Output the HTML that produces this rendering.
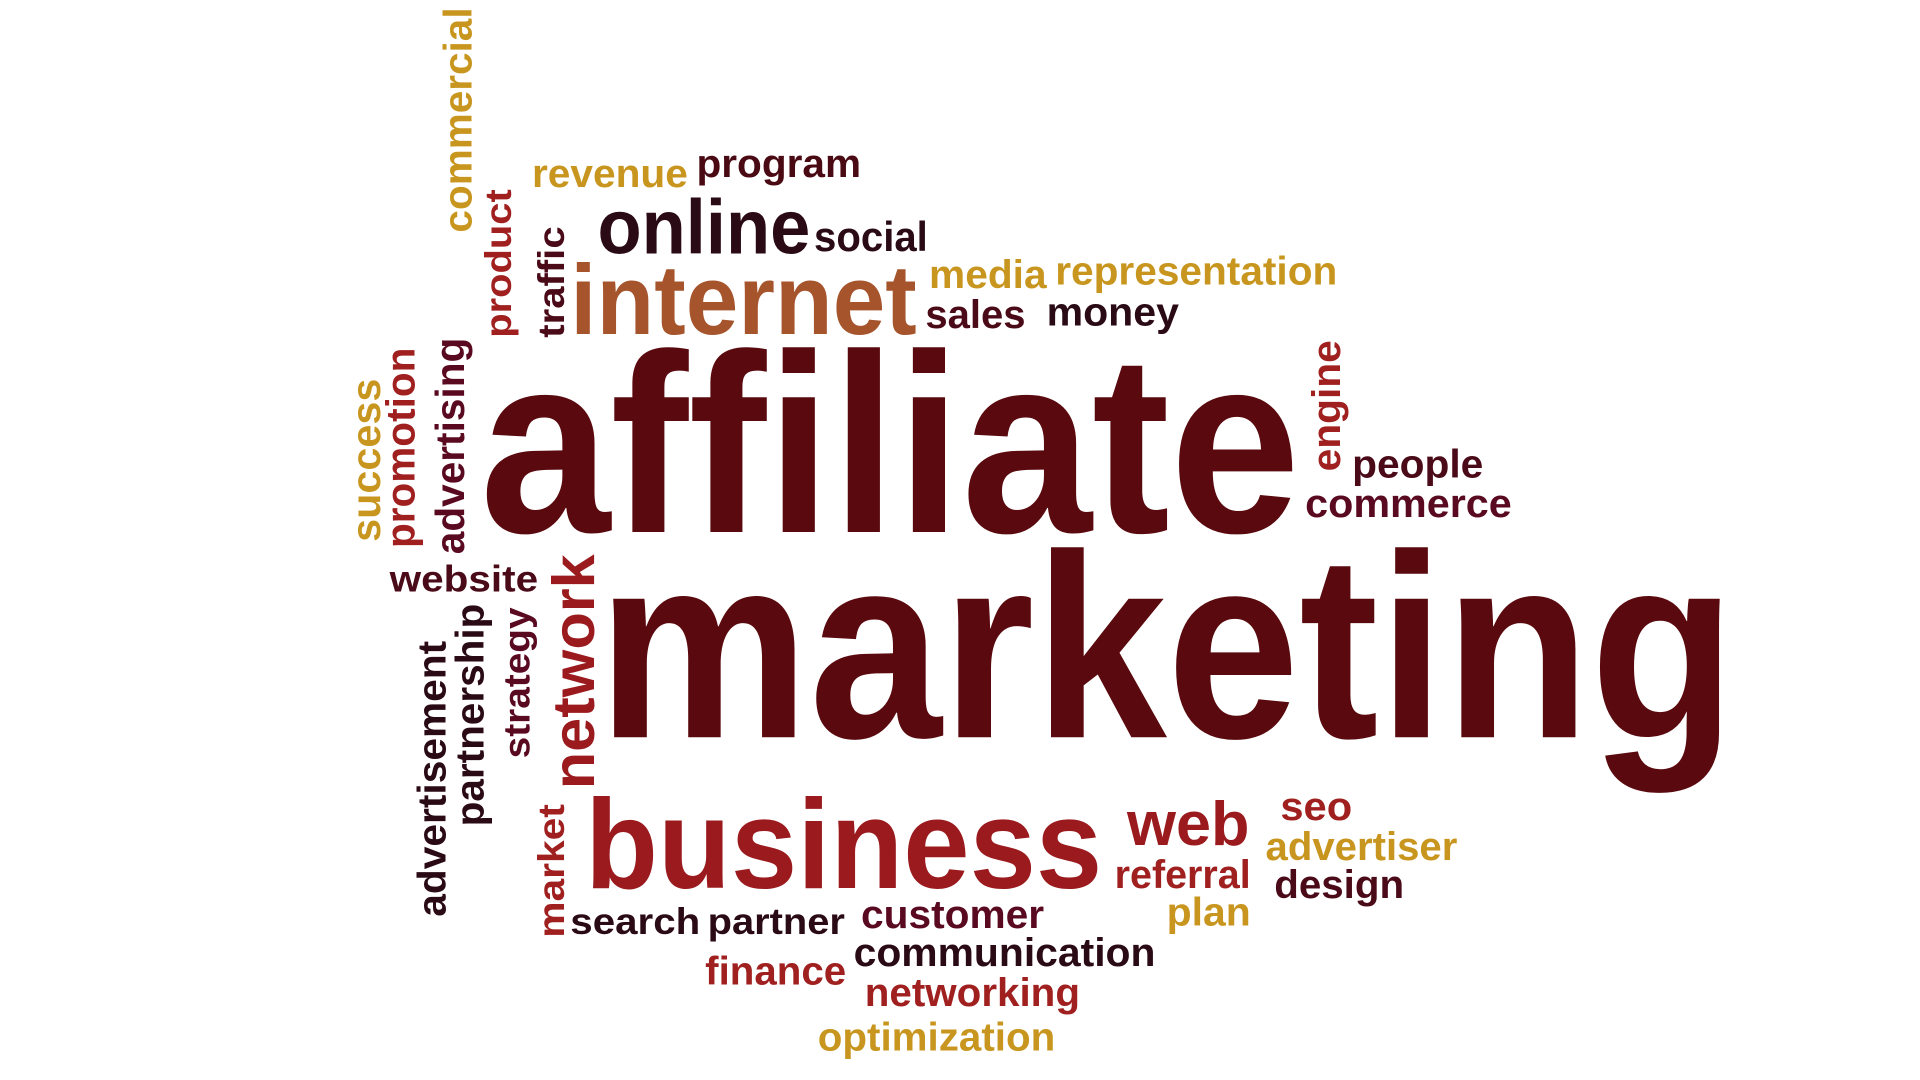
<!DOCTYPE html>
<html><head><meta charset="utf-8"><style>
html,body{margin:0;padding:0;background:#fff;width:1920px;height:1080px;overflow:hidden}
svg{display:block}
text{font-family:"Liberation Sans",Arial,sans-serif;font-weight:bold}
</style></head><body>
<svg width="1920" height="1080" viewBox="0 0 1552 873" preserveAspectRatio="none"><g id="cloud" transform="translate(-7,-2)"></g></svg>
<script>
const words=["affiliate","marketing","internet","online","social","revenue","program","media","representation","sales","money","people","commerce","website","business","web","seo","advertiser","referral","design","plan","search","partner","customer","communication","finance","networking","optimization","commercial","product","traffic","success","promotion","advertising","engine","network","strategy","partnership","advertisement","market"];
const weights=[206,212,80,62,34,32,32,32,32,32,32,32,32,30,103,50,32,32,32,32,32,30,30,32,32,32,32,32,32,30,30,33,33,33,32,48,30,32,32,30];
const colors=["#5a0a0e","#5a0a0e","#a5542c","#2a0a14","#2a0a14","#c8961e","#4a0a14","#c8961e","#c8961e","#4a0a18","#2a0a14","#4a0a18","#5a0a20","#4a0a18","#9a1a1e","#9a1a1e","#a02020","#c8961e","#a02020","#4a0a18","#c8961e","#2a0a14","#2a0a14","#5a0a20","#2a0a14","#a02020","#a02020","#c8961e","#c8961e","#a02020","#4a0a18","#c8961e","#a02020","#5a0a20","#a02020","#9a1a1e","#5a0a20","#2a0a14","#2a0a14","#a02020"];
// layout: x = left (or baseline x for vertical), y = baseline (or bottom for vertical), len = text extent, rot = vertical flag
const layoutX=[395,490,468,490,665,437,570,758,860,755,853,1100,1062,322,480,918,1042,1030,908,1037,950,468,579,703,697,577,706,668,388,420,463,314,342,382,1090,487,435,398,367,463];
const layoutY=[432,598,272,207,205,153,145,235,232,267,265,388,420,480,720,685,665,697,720,728,750,757,757,752,783,798,815,851,190,275,275,440,445,450,383,640,615,670,743,760];
const layoutLen=[663,920,280,172,92,126,133,95,228,81,107,106,167,120,418,99,58,155,110,105,68,105,111,148,244,114,174,192,182,120,90,132,162,175,106,190,122,180,223,108];
const rot=[0,0,0,0,0,0,0,0,0,0,0,0,0,0,0,0,0,0,0,0,0,0,0,0,0,0,0,0,1,1,1,1,1,1,1,1,1,1,1,1];
const g=document.getElementById('cloud');
const NS='http://www.w3.org/2000/svg';
for(let i=0;i<words.length;i++){
  const t=document.createElementNS(NS,'text');
  
  
  t.setAttribute('font-size',weights[i]);
  t.setAttribute('fill',colors[i]);
  t.setAttribute('textLength',layoutLen[i]);
  t.setAttribute('lengthAdjust','spacingAndGlyphs');
  if(rot[i]){
    t.setAttribute('transform','translate('+layoutX[i]+','+layoutY[i]+') rotate(-90)');
    t.setAttribute('x',0);t.setAttribute('y',0);
  }else{
    t.setAttribute('x',layoutX[i]);t.setAttribute('y',layoutY[i]);
  }
  t.textContent=words[i];
  g.appendChild(t);
}
</script>
</body></html>
